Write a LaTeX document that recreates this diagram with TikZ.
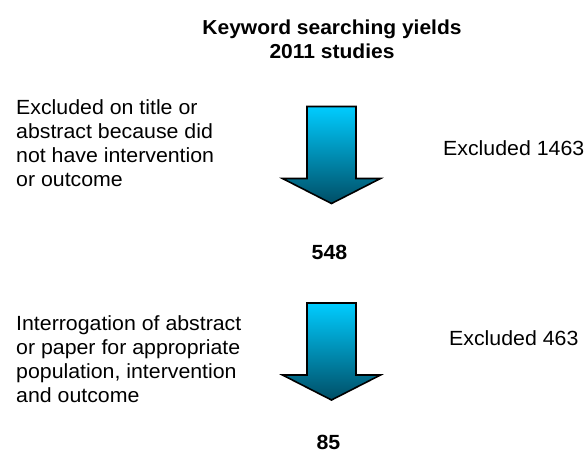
\documentclass[tikz,border=0pt]{standalone}
\usepackage{fontspec}
\setmainfont{Liberation Sans}[FakeStretch=1.04]

\definecolor{arrowtop}{RGB}{0,204,255}
\definecolor{arrowbot}{RGB}{0,78,102}

\begin{document}
\begin{tikzpicture}[x=1pt, y=-1pt,
    txt/.style={inner sep=0pt, font=\fontsize{20.5}{24}\selectfont},
    reason/.style={txt, anchor=north west, align=left},
    count/.style={inner sep=0pt, font=\fontsize{20.5}{24}\selectfont\bfseries, anchor=base},
    flowarrow/.style={draw=black, line width=1.6pt, top color=arrowtop, bottom color=arrowbot}]
    \useasboundingbox (0,0) rectangle (584,452);

    \node[inner sep=0pt, font=\fontsize{20.2}{24}\selectfont\bfseries, anchor=north, align=center]
        (title) at (332,20) {Keyword searching yields\\2011 studies};

    % the two screening steps
    \foreach \h in {106.5,303}
        \draw[flowarrow] (307,\h) -- (356,\h) -- (356,\h+72) -- (380.5,\h+72)
            -- (331.5,\h+97) -- (282.5,\h+72) -- (307,\h+72) -- cycle;

    \node[reason] (reasonA) at (16,99.8) {Excluded on title or\\abstract because did\\not have intervention\\or outcome};
    \node[txt, anchor=base west] (outA) at (443,155) {Excluded 1463};
    \node[count] (countA) at (329.5,259.4) {548};

    \node[reason] (reasonB) at (16,315) {Interrogation of abstract\\or paper for appropriate\\population, intervention\\and outcome};
    \node[txt, anchor=base west] (outB) at (449,345) {Excluded 463};
    \node[count] (countB) at (328.5,449) {85};
\end{tikzpicture}
\end{document}
